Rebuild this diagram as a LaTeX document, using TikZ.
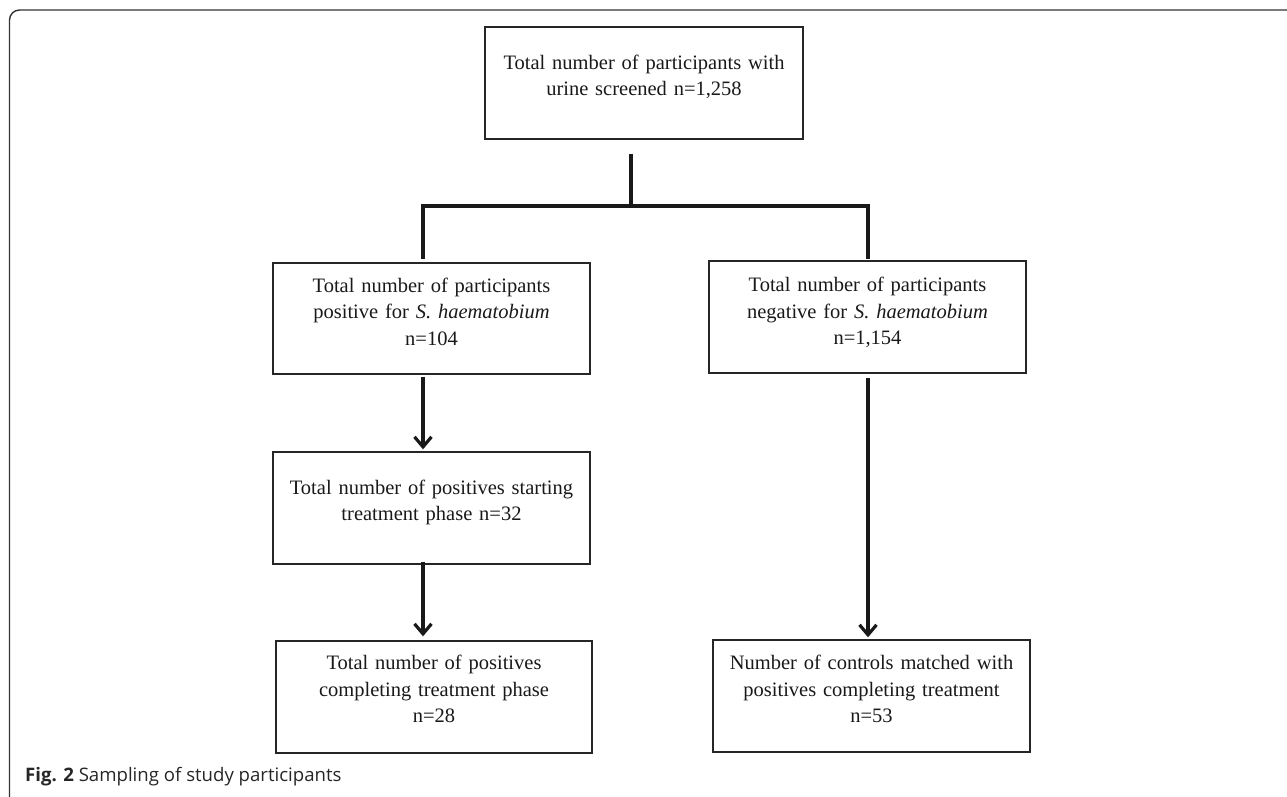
\documentclass[tikz,border=0pt]{standalone}
\usepackage{fontspec}
\setmainfont{Liberation Serif}
\newfontfamily\capfont{Open Sans}
\usetikzlibrary{arrows.meta,calc}
\begin{document}
\begin{tikzpicture}[x=1pt,y=-1pt,
  box/.style={draw=black!85, line width=1.4pt, inner sep=0pt, rectangle},
  txt/.style={font=\fontsize{20.5}{26.5}\selectfont, text width=330pt, align=center, inner sep=0pt, anchor=base, text=black!90},
  conn/.style={line width=3.2pt, draw=black!90},
  arrowline/.style={conn, -{Straight Barb[length=10pt, width=17pt]}},
  frame/.style={draw=black!80, line width=1.4pt, rounded corners=10pt}]
\useasboundingbox (0,0) rectangle (1287,797);
% outer frame
\draw[frame] (1295,10) -- (9.5,10) -- (9.5,807) -- (60,807);
% boxes
\node[box, minimum width=318pt, minimum height=112pt] (top) at (644,83) {};
\node[txt] (ttop) at (644,69.5) {Total number of participants with\\ urine screened n=1,258};
\node[box, minimum width=317pt, minimum height=111pt] (pos1) at (431.5,318.5) {};
\node[txt] (tpos1) at (431.5,292) {Total number of participants\\ positive for \textit{S. haematobium}\\ n=104};
\node[box, minimum width=317pt, minimum height=112pt] (pos2) at (431.5,508) {};
\node[txt] (tpos2) at (431.5,494) {Total number of positives starting\\ treatment phase n=32};
\node[box, minimum width=316pt, minimum height=112pt] (pos3) at (434,697) {};
\node[txt] (tpos3) at (434,669.5) {Total number of positives\\ completing treatment phase\\ n=28};
\node[box, minimum width=317pt, minimum height=112pt] (neg1) at (867.5,317) {};
\node[txt] (tneg1) at (867.5,291.5) {Total number of participants\\ negative for \textit{S. haematobium}\\ n=1,154};
\node[box, minimum width=317pt, minimum height=112pt] (neg2) at (871.5,696) {};
\node[txt] (tneg2) at (871.5,669.5) {Number of controls matched with\\ positives completing treatment\\ n=53};
% connectors
\coordinate (split) at (631,206);
\draw[conn] ($(top.south -| split)+(0,14)$) -- (split);
\draw[conn] ($(pos1.north)+(-8.5,-3)$) |- (split) -| ($(neg1.north)+(0.5,-1)$);
\draw[arrowline] ($(pos1.south)+(-8.5,2)$) -- ($(pos2.north)+(-8.5,-2)$);
\draw[arrowline] ($(pos2.south)+(-8.5,-3)$) -- ($(pos3.north)+(-11,-4)$);
\draw[arrowline] ($(neg1.south)+(0.5,4)$) -- ($(neg2.north)+(-3.5,-2)$);
% caption
\node[anchor=base west, font=\capfont\fontsize{18.6}{22}\selectfont, inner sep=0pt, text=black!85] (cap) at (25,781.5) {\textbf{Fig. 2} Sampling of study participants};
\end{tikzpicture}
\end{document}
